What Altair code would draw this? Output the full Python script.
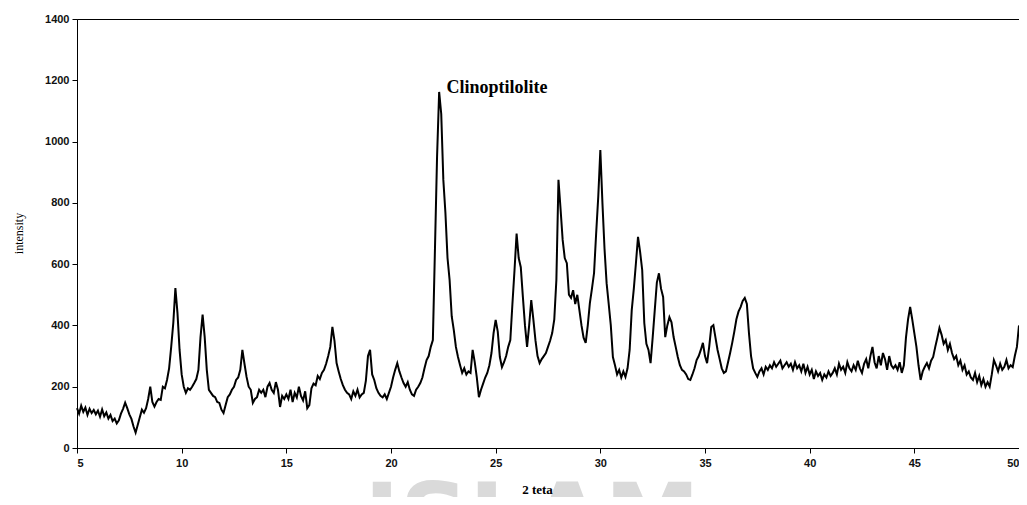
import altair as alt
import pandas as pd
import numpy as np

# 2-theta grid (0.1 deg steps from 5 to 50)
two_theta = np.round(np.arange(5.0, 50.0001, 0.1), 1)

# intensity, one row per degree (x.0 .. x.9)
i05 = [130, 112, 138, 118, 132, 108, 128, 114, 124, 110]
i06 = [122, 102, 126, 104, 116, 96, 108, 88, 96, 80]
i07 = [90, 112, 128, 148, 130, 110, 95, 70, 50, 75]
i08 = [100, 125, 115, 130, 160, 200, 150, 135, 150, 160]
i09 = [157, 200, 195, 222, 260, 330, 408, 522, 440, 320]
i10 = [240, 200, 180, 195, 190, 200, 212, 225, 255, 362]
i11 = [435, 362, 255, 190, 180, 170, 166, 150, 147, 125]
i12 = [114, 140, 166, 175, 190, 200, 222, 230, 255, 320]
i13 = [275, 232, 200, 190, 147, 160, 166, 190, 180, 190]
i14 = [166, 200, 212, 190, 180, 215, 190, 134, 170, 160]
i15 = [175, 160, 190, 150, 180, 165, 200, 170, 155, 185]
i16 = [130, 140, 195, 210, 205, 235, 225, 245, 255, 275]
i17 = [300, 330, 395, 350, 277, 250, 225, 205, 190, 180]
i18 = [175, 160, 185, 170, 190, 165, 175, 180, 220, 300]
i19 = [320, 240, 222, 195, 180, 170, 165, 175, 160, 180]
i20 = [200, 230, 255, 277, 250, 230, 212, 200, 215, 190]
i21 = [175, 170, 190, 200, 212, 230, 260, 287, 300, 330]
i22 = [352, 650, 950, 1162, 1090, 875, 767, 620, 548, 430]
i23 = [385, 330, 297, 270, 245, 260, 240, 250, 245, 320]
i24 = [280, 230, 166, 190, 210, 230, 245, 270, 310, 375]
i25 = [418, 380, 297, 264, 280, 300, 330, 352, 470, 580]
i26 = [700, 620, 590, 493, 400, 330, 400, 483, 420, 352]
i27 = [300, 277, 290, 300, 310, 330, 350, 375, 420, 548]
i28 = [875, 780, 679, 620, 603, 500, 490, 515, 470, 500]
i29 = [450, 400, 360, 343, 400, 473, 520, 571, 700, 819]
i30 = [972, 800, 650, 538, 470, 400, 297, 270, 240, 255]
i31 = [230, 250, 232, 260, 320, 450, 520, 603, 689, 640]
i32 = [581, 408, 340, 320, 277, 360, 450, 540, 570, 520]
i33 = [493, 362, 400, 427, 410, 362, 330, 297, 270, 255]
i34 = [250, 240, 225, 222, 240, 260, 287, 300, 320, 343]
i35 = [300, 277, 330, 395, 401, 360, 320, 290, 260, 245]
i36 = [250, 280, 310, 343, 380, 420, 445, 460, 480, 490]
i37 = [470, 375, 300, 260, 245, 232, 250, 260, 240, 265]
i38 = [255, 270, 260, 280, 265, 275, 285, 260, 270, 280]
i39 = [265, 275, 255, 280, 260, 270, 250, 275, 245, 265]
i40 = [240, 255, 225, 250, 235, 245, 222, 240, 230, 250]
i41 = [235, 245, 260, 240, 275, 255, 265, 245, 280, 260]
i42 = [250, 270, 255, 285, 260, 245, 275, 290, 260, 300]
i43 = [330, 280, 260, 300, 270, 310, 290, 255, 300, 270]
i44 = [260, 270, 255, 280, 245, 270, 360, 420, 460, 420]
i45 = [375, 330, 270, 222, 250, 265, 277, 260, 285, 297]
i46 = [330, 360, 392, 370, 340, 352, 320, 340, 310, 290]
i47 = [300, 270, 285, 255, 270, 240, 250, 230, 222, 245]
i48 = [215, 235, 205, 225, 200, 215, 200, 240, 287, 270]
i49 = [250, 275, 255, 265, 287, 260, 270, 264, 300, 330]
i50 = [400]

intensity = (i05 + i06 + i07 + i08 + i09 + i10 + i11 + i12 + i13 + i14 + i15 + i16 +
             i17 + i18 + i19 + i20 + i21 + i22 + i23 + i24 + i25 + i26 + i27 + i28 +
             i29 + i30 + i31 + i32 + i33 + i34 + i35 + i36 + i37 + i38 + i39 + i40 +
             i41 + i42 + i43 + i44 + i45 + i46 + i47 + i48 + i49 + i50)

x_ticks = [5, 10, 15, 20, 25, 30, 35, 40, 45, 50]
y_ticks = [0, 200, 400, 600, 800, 1000, 1200, 1400]

df = pd.DataFrame({"x": two_theta[:len(intensity)], "y": intensity})

label_df = pd.DataFrame({"x": [22.65], "y": [1175], "t": ["Clinoptilolite"]})

xs = alt.Scale(domain=[5, 50], nice=False)
ys = alt.Scale(domain=[0, 1400], nice=False)

line = alt.Chart(df).mark_line(color="black", strokeWidth=2).encode(
    x=alt.X("x:Q", scale=xs,
            axis=alt.Axis(values=x_ticks, title="2 teta", grid=False, format="d",
                          zindex=1,
                          labelFont="Liberation Sans", labelFontWeight="bold",
                          labelFontSize=11, labelColor="#111",
                          tickColor="black", tickSize=5, domainColor="black",
                          labelPadding=4,
                          titleFont="Liberation Serif", titleFontWeight="bold",
                          titleFontSize=13, titleColor="black",
                          titleX=460, titleY=41, titleBaseline="middle",
                          titleAlign="center")),
    y=alt.Y("y:Q", scale=ys,
            axis=alt.Axis(values=y_ticks, title="intensity", grid=False, format="d",
                          zindex=1,
                          labelFont="Liberation Sans", labelFontWeight="bold",
                          labelFontSize=11, labelColor="#111",
                          tickColor="black", tickSize=5, domainColor="black",
                          labelPadding=3,
                          titleFont="Liberation Serif", titleFontWeight="normal",
                          titleFontSize=12, titleColor="black",
                          titleX=-59, titleY=214, titleAngle=270,
                          titleBaseline="middle", titleAlign="center")),
)

annot = alt.Chart(label_df).mark_text(
    align="left", baseline="middle", font="Liberation Serif",
    fontWeight="bold", fontSize=18, color="black"
).encode(x=alt.X("x:Q", scale=xs), y=alt.Y("y:Q", scale=ys), text="t:N")

watermark = alt.Chart(pd.DataFrame({"t": ["ISLAM"]})).mark_text(
    align="center", baseline="top", font="DejaVu Sans", fontWeight="bold",
    fontSize=96, color="#dadada"
).encode(x=alt.value(455), y=alt.value(457), text="t:N")

chart = alt.layer(watermark, line, annot).properties(
    width=942, height=429,
    autosize=alt.AutoSizeParams(type="none"),
    padding={"left": 69, "top": 11, "right": 0, "bottom": 49},
).configure(background="white").configure_view(stroke="black", strokeWidth=1)

chart.save("out.html", embed_options={"renderer": "svg", "actions": False})
